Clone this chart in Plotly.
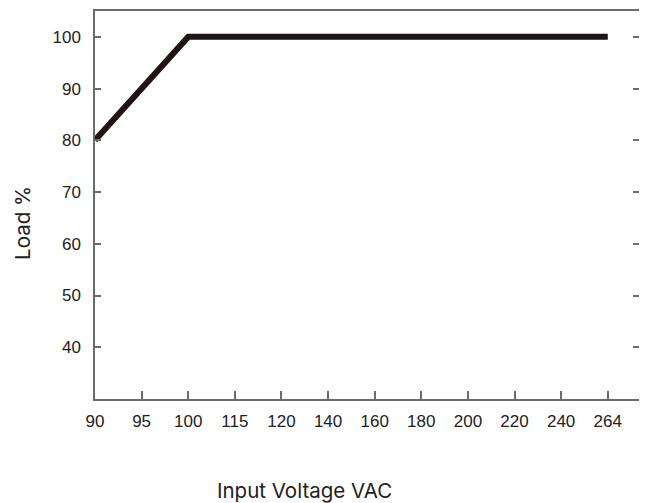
import plotly.graph_objects as go

voltage_ticks = ["90", "95", "100", "115", "120", "140", "160", "180", "200", "220", "240", "264"]
curve_voltage = ["90", "100", "264"]
curve_load = [80, 100, 100]
y_ticks = [40, 50, 60, 70, 80, 90, 100]

axis_color = "#6b6b6b"
font_narrow = "Liberation Sans Narrow, Arial Narrow, Liberation Sans, sans-serif"
title_font = "Inter, Noto Sans, sans-serif"

# the page body has an 8px margin, so the figure is sized to fill the window from there
W, H = 639, 495
OFF = 8

fig = go.Figure()
fig.add_trace(go.Scatter(
    x=curve_voltage, y=curve_load, mode="lines",
    line=dict(color="#201515", width=6), showlegend=False,
))

l, r, t, b = 87, 8, 1, 104
pw, ph = W - l - r, H - t - b

def px_x(page_x):
    return (page_x - OFF - l) / pw

def px_y(page_y):
    return 1 - (page_y - OFF - t) / ph

fig.update_layout(
    width=W, height=H,
    margin=dict(l=l, r=r, t=t, b=b),
    paper_bgcolor="white", plot_bgcolor="white",
    xaxis=dict(
        type="category", categoryorder="array", categoryarray=voltage_ticks,
        tickvals=voltage_ticks, range=[0, 11.67],
        showgrid=False, zeroline=False,
        showline=True, linecolor=axis_color, linewidth=1.5, mirror=True,
        ticks="inside", ticklen=8, tickcolor=axis_color, tickwidth=1.5,
        tickfont=dict(family=font_narrow, size=17, color="#222"),
        ticklabelstandoff=6,
    ),
    yaxis=dict(
        range=[30, 105], tickvals=y_ticks,
        showgrid=False, zeroline=False,
        showline=True, linecolor=axis_color, linewidth=1.5, mirror="ticks",
        ticks="inside", ticklen=6, tickcolor=axis_color, tickwidth=1.5,
        tickfont=dict(family=font_narrow, size=17, color="#222"),
        ticklabelstandoff=9,
    ),
    annotations=[
        dict(text="Load %", xref="paper", yref="paper", x=px_x(23), y=px_y(222),
             xanchor="center", yanchor="middle", textangle=-90, showarrow=False,
             font=dict(family=title_font, size=20.5, color="#222")),
        dict(text="Input Voltage VAC", xref="paper", yref="paper", x=px_x(304), y=px_y(491),
             xanchor="center", yanchor="middle", showarrow=False,
             font=dict(family=title_font, size=20.5, color="#222")),
    ],
)

fig.write_html("out.html")
